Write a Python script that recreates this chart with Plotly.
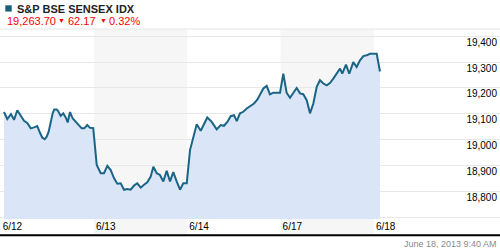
import plotly.graph_objects as go

# ---- data ----
# time in trading-day units: 0 = 6/12 open, 1 = 6/13 open, 2 = 6/14, 3 = 6/17, 4 = 6/18
t = [0.035, 0.071, 0.110, 0.143, 0.178, 0.214, 0.250, 0.285, 0.322, 0.357, 0.392, 0.421,
     0.446, 0.472, 0.493, 0.514, 0.536, 0.557, 0.574, 0.600, 0.617, 0.643, 0.671, 0.697,
     0.718, 0.743, 0.772, 0.804, 0.836, 0.868, 0.896, 0.928, 0.957, 0.992,
     1.029, 1.057, 1.072, 1.107, 1.143, 1.179, 1.214, 1.250, 1.286, 1.322, 1.357, 1.393,
     1.429, 1.464, 1.501, 1.536, 1.571, 1.608, 1.636, 1.672, 1.707, 1.743, 1.779, 1.815,
     1.850, 1.886, 1.922, 1.957, 1.994,
     2.029, 2.064, 2.101, 2.144, 2.179, 2.214, 2.262, 2.315, 2.358, 2.393, 2.429, 2.465,
     2.501, 2.530, 2.565, 2.600, 2.637, 2.680, 2.715, 2.750, 2.787, 2.815, 2.851, 2.886,
     2.922, 2.958, 2.994,
     3.029, 3.065, 3.101, 3.136, 3.172, 3.208, 3.243, 3.280, 3.315, 3.351, 3.387, 3.422,
     3.458, 3.494, 3.529, 3.565, 3.601, 3.637, 3.661, 3.701, 3.736, 3.779, 3.815, 3.851,
     3.887, 3.923, 3.958, 3.994,
     4.030, 4.065]
values = [19107, 19080, 19099, 19077, 19114, 19091, 19073, 19065, 19044, 19048, 19053, 19027,
          19008, 19002, 19012, 19031, 19069, 19102, 19117, 19117, 19110, 19092, 19102, 19086,
          19067, 19107, 19082, 19069, 19057, 19044, 19044, 19057, 19046, 19045,
          18903, 18877, 18871, 18871, 18899, 18883, 18852, 18830, 18832, 18807, 18810, 18807,
          18823, 18832, 18815, 18826, 18836, 18858, 18896, 18871, 18864, 18839, 18880, 18839,
          18875, 18839, 18807, 18832, 18832,
          18960, 19012, 19060, 19035, 19063, 19086, 19069, 19040, 19057, 19054, 19069, 19091,
          19095, 19072, 19102, 19108, 19121, 19130, 19140, 19155, 19179, 19198, 19208, 19175,
          19182, 19182, 19182,
          19255, 19181, 19162, 19179, 19200, 19179, 19176, 19153, 19102, 19140, 19204, 19230,
          19217, 19210, 19219, 19236, 19255, 19275, 19255, 19290, 19255, 19300, 19281, 19307,
          19323, 19326, 19332, 19332,
          19332, 19263.70]

day_ticks = [0, 1, 2, 3, 4]
day_labels = ["6/12", "6/13", "6/14", "6/17", "6/18"]
y_ticks = [18700, 18800, 18900, 19000, 19100, 19200, 19300, 19400]
y_labels = ["", "18,800", "18,900", "19,000", "19,100", "19,200", "19,300", "19,400"]
shaded_days = [(1, 2), (3, 4)]

title = "S&P BSE SENSEX IDX"
last_text = "19,263.70"
change_text = "62.17"
pct_text = "0.32%"
stamp = "June 18, 2013 9:40 AM"

# ---- layout geometry (pixels) ----
W, H = 500, 250
top, bottom = 28.5, 219.3
ph = bottom - top

def py(ypix):
    return (bottom - ypix) / ph

fig = go.Figure()
fig.add_trace(go.Scatter(
    x=t, y=values, mode="lines",
    line=dict(color="#1a6585", width=2),
    fill="tozeroy", fillcolor="#dae6f8",
    hoverinfo="skip", showlegend=False))

shapes = []
for a, b in shaded_days:
    shapes.append(dict(type="rect", xref="x", yref="paper", x0=a, x1=b,
                       y0=py(235), y1=1, fillcolor="#f6f6f6", line_width=0, layer="below"))
shapes.append(dict(type="line", xref="paper", yref="paper", x0=0, x1=1, y0=1, y1=1,
                   line=dict(color="#e6e6e6", width=1)))
shapes.append(dict(type="line", xref="paper", yref="paper", x0=0, x1=1, y0=py(235.5), y1=py(235.5),
                   line=dict(color="#000000", width=2)))
shapes.append(dict(type="rect", xref="paper", yref="paper", x0=5.3 / W, x1=11.7 / W,
                   y0=py(11), y1=py(4.7), fillcolor="#1a5f7a", line_width=0))

font = "Arial, Liberation Sans, sans-serif"
ann = [
    dict(text="<b>" + title + "</b>", x=15 / W, y=py(8), xanchor="left", yanchor="middle",
         font=dict(size=11, color="#222222")),
    dict(text=last_text, x=5 / W, y=py(20.7), xanchor="left", yanchor="middle",
         font=dict(size=11, color="#ff0000")),
    dict(text="▼", x=56 / W, y=py(20), xanchor="left", yanchor="middle",
         font=dict(size=7, color="#ff0000")),
    dict(text=change_text, x=65.5 / W, y=py(20.7), xanchor="left", yanchor="middle",
         font=dict(size=11, color="#ff0000")),
    dict(text="▼", x=98 / W, y=py(20), xanchor="left", yanchor="middle",
         font=dict(size=7, color="#ff0000")),
    dict(text=pct_text, x=106.5 / W, y=py(20.7), xanchor="left", yanchor="middle",
         font=dict(size=11, color="#ff0000")),
    dict(text=stamp, x=499 / W, y=py(244), xanchor="right", yanchor="middle",
         font=dict(size=9, color="#8a8a8a")),
]
for a in ann:
    a.update(xref="paper", yref="paper", showarrow=False)

tmin = -0.0075
tmax = tmin + W / 93.3

fig.update_layout(
    width=W, height=H,
    margin=dict(l=0, r=0, t=top, b=H - bottom, pad=0),
    paper_bgcolor="white", plot_bgcolor="rgba(0,0,0,0)",
    font=dict(family=font, size=10, color="#000000"),
    shapes=shapes, annotations=ann,
    xaxis=dict(range=[tmin, tmax], tickvals=day_ticks, ticktext=day_labels,
               showgrid=False, zeroline=False, ticks="", showline=False,
               ticklabelposition="outside right", ticklabelshift=2,
               tickfont=dict(size=10, color="#000")),
    yaxis=dict(range=[18694, 19427.7], tickvals=y_ticks, ticktext=y_labels,
               side="right", ticklabelposition="inside", ticklabelshift=6,
               showgrid=True, gridcolor="#e8e8e8", gridwidth=1, zeroline=False,
               ticks="", showline=False, tickfont=dict(size=10, color="#000")),
)

fig.write_html("out.html")
